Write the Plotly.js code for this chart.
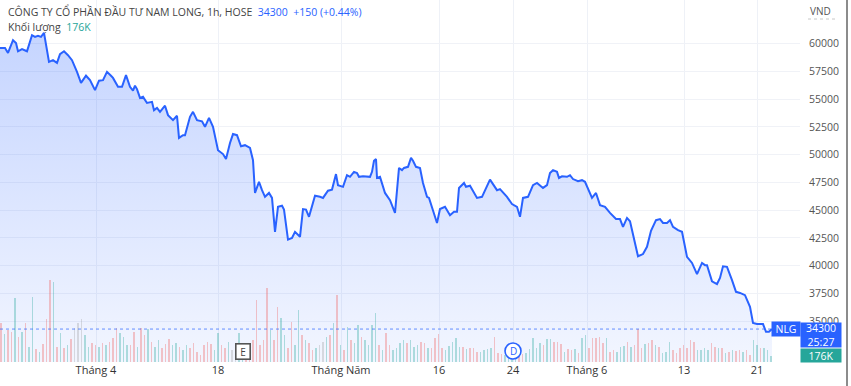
<!DOCTYPE html>
<html><head><meta charset="utf-8">
<script src="https://cdn.plot.ly/plotly-3.0.1.min.js"></script>
<style>html,body{margin:0;padding:0;background:#fff;overflow:hidden}#chart{width:851px;height:386px}</style>
</head><body><div id="chart"></div>
<script>
// ---- data (hourly index along the time axis) ----
const timeIndex = [0,5,8,13,16,18,22,27,32,35,38,41,44,47,49,53,57,60,64,68,72,77,81,86,90,95,99,103,107,111,113,118,122,126,130,133,135,137,140,143,147,152,154,157,160,165,168,173,177,179,183,185,190,193,197,202,205,209,213,218,223,226,230,233,237,241,245,250,253,255,259,262,265,269,272,275,278,282,284,288,292,295,300,303,306,309,315,320,323,328,332,336,338,343,347,350,354,357,359,363,370,372,374,376,377,380,385,390,395,399,402,404,408,411,413,416,420,423,427,429,433,437,440,445,450,454,457,459,464,466,470,477,482,490,497,500,507,512,517,520,523,528,533,537,543,547,550,553,557,559,562,567,570,573,578,582,585,592,596,600,605,610,616,620,623,627,630,635,638,643,647,651,656,660,663,667,670,673,678,682,687,692,697,702,705,707,712,717,720,723,727,732,736,740,745,750,753,757,763,766,769,772];
const closePrice = [59600,59600,59150,60300,60050,59300,59500,59300,60750,60600,60700,60600,60950,59400,58350,58500,58250,59050,59300,58950,58500,57450,56450,57100,56700,55800,56650,56700,57450,57100,56900,56100,56100,57150,56100,55750,56200,55900,55100,55200,54650,54750,54000,54200,53850,54400,53550,53100,53500,51500,51750,51750,53400,53850,53100,53000,52500,53300,52500,50400,50050,49600,51050,51850,51750,50750,50850,50600,49500,46550,47550,46800,46200,46550,46100,43050,45300,45400,45050,42350,42500,43050,42600,45100,45050,44400,46300,46200,46100,46750,46850,48250,47250,47100,48150,48000,48450,48350,48000,48050,48000,48450,49450,49600,47900,48000,46550,45900,44750,48800,48600,48800,48900,49700,49450,48900,48800,47450,46200,46100,45050,43850,45100,45300,44550,44850,44850,47000,47450,47100,47200,46100,46200,47750,46800,46900,46200,45550,45300,44400,46100,46200,47250,47450,47000,47250,48350,48600,48450,47900,48050,48000,48150,47800,47600,47700,47550,46100,46550,45450,45300,44750,44200,44200,43500,44300,44000,42150,40850,41050,41700,43150,44100,44200,43850,43850,44100,43500,43200,43050,40800,40250,39250,40250,40050,40050,38600,38350,38900,39950,39900,38700,37650,37550,37350,36300,34850,34750,34750,34050,34050,34300];
// volume in thousands of shares, one bar per hour slot
const volumeK = [1170,840,960,900,1920,750,900,1170,450,1950,
390,300,540,1290,2460,2400,450,870,420,510,
690,1020,1170,1290,810,450,570,510,450,570,
510,600,720,1020,870,750,510,510,900,450,
1020,810,990,600,450,660,420,540,690,510,
570,450,360,510,420,570,300,210,510,600,
540,360,870,510,420,600,360,450,870,300,
360,510,660,1860,510,660,2220,960,660,1650,
1320,810,420,1200,510,1560,810,660,570,360,
420,510,600,750,810,1170,2010,510,360,1050,
660,570,1110,750,660,510,1110,1470,510,360,
870,510,360,420,570,660,570,660,450,510,
600,570,420,420,720,840,420,360,480,600,
720,450,450,390,420,420,300,300,360,390,
420,750,270,240,210,180,180,210,240,240,
270,390,720,420,570,510,690,690,600,600,
540,300,390,360,390,270,720,810,420,720,
720,750,570,720,300,360,300,450,480,600,
450,510,990,420,540,570,660,510,450,270,
300,600,360,270,420,510,420,660,600,360,
360,420,360,570,450,420,420,270,300,360,
330,360,300,360,210,660,510,420,420,360,176];
// u = up bar, d = down bar, n = unchanged
const volumeDir = ("duddududuu"+"dudddududu"+"dnnnuuddud"+"uddduuuddu"+"dduduudddu"+"uduudddddd"+"duuddunnuu"+"dddddddudd"+"uudduududd"+"unnudududu"+"duuduuuudu"+"dduuuuduuu"+"ddudddduuu"+"uududdduuu"+"uddduuuudd"+"uuuuuduudd"+"dudduduudd"+"dddudduuud"+"uddduddudu"+"uudddddddu"+"uuuddududu"+"ddudduuduuu").split("");
const tickPositions = [0, 96, 218, 341, 439, 513, 587, 684, 757];
const tickLabels = ["22", "Tháng 4", "18", "Tháng Năm", "16", "24", "Tháng 6", "13", "21"];
const priceTicks = [35000, 37500, 40000, 42500, 45000, 47500, 50000, 52500, 55000, 57500, 60000];
const symbolName = "CÔNG TY CỔ PHẦN ĐẦU TƯ NAM LONG, 1h, HOSE";
const ticker = "NLG";
const lastPrice = 34300;
const lastChange = "+150 (+0.44%)";
const lastVolume = "176K";
const countdown = "25:27";
const eventE = 243, eventD = 513;

// ---- chart ----
const FONT = "Open Sans, Noto Sans, sans-serif";
const BLUE = "#2962ff";
const TEAL = "#26a69a";
const yMin = 31335, yMax = 63915;
const barTime = volumeK.map((_, i) => 1 + 3.5 * i);
const barColor = volumeDir.map(d => d === "u" ? "rgba(38,166,154,0.34)" : d === "d" ? "rgba(239,83,80,0.32)" : "rgba(150,150,150,0.3)");

const priceTrace = {
  x: timeIndex, y: closePrice, type: "scatter", mode: "lines",
  line: {color: BLUE, width: 2, shape: "linear"},
  fill: "tozeroy",
  fillgradient: {type: "vertical", start: yMin, stop: 61000,
    colorscale: [[0, "rgba(41,98,255,0.06)"], [1, "rgba(41,98,255,0.27)"]]},
  hoverinfo: "skip", xaxis: "x", yaxis: "y"
};
const volTrace = {
  x: barTime, y: volumeK, type: "bar", width: 1.7,
  marker: {color: barColor, line: {width: 0}},
  hoverinfo: "skip", xaxis: "x", yaxis: "y2"
};

const plotH = 362;
const layout = {
  width: 851, height: 386,
  margin: {l: 0, r: 51, t: 0, b: 24, pad: 0},
  paper_bgcolor: "#ffffff", plot_bgcolor: "#ffffff",
  showlegend: false,
  font: {family: FONT, size: 11, color: "#333"},
  xaxis: {range: [0, 800], tickvals: tickPositions, ticktext: tickLabels,
    showgrid: true, gridcolor: "#eef1f7", gridwidth: 1, zeroline: false, showline: false,
    ticks: "", tickfont: {family: FONT, size: 11, color: "#333"}, fixedrange: true},
  yaxis: {range: [yMin, yMax], side: "right", tickvals: priceTicks, tickformat: "d",
    showgrid: true, gridcolor: "#f0f2f7", gridwidth: 1, zeroline: false, showline: false,
    ticks: "", ticklabelstandoff: 8, tickfont: {family: FONT, size: 10.5, color: "#555"}, fixedrange: true},
  yaxis2: {overlaying: "y", range: [0, plotH * 30], visible: false, fixedrange: true},
  bargap: 0,
  shapes: [
    {type: "line", xref: "x", yref: "y", x0: 0, x1: 800, y0: lastPrice, y1: lastPrice,
     line: {color: "rgba(41,98,255,0.7)", width: 1, dash: "dot"}, layer: "above"},
    {type: "circle", xref: "x", yref: "paper", xsizemode: "pixel", ysizemode: "pixel",
     xanchor: eventD, yanchor: 11 / plotH, x0: -8, x1: 8, y0: -8, y1: 8,
     line: {color: BLUE, width: 1.6}, fillcolor: "#ffffff"},
    {type: "line", xref: "paper", yref: "paper", x0: 808 / 800, x1: 836 / 800,
     y0: (plotH - 19) / plotH, y1: (plotH - 19) / plotH, line: {color: "#c8c8c8", width: 1, dash: "dot"}},
    {type: "line", xref: "paper", yref: "paper", x0: 847 / 800, x1: 847 / 800,
     y0: -24 / plotH, y1: 1, line: {color: "#666", width: 1.5}}
  ],
  annotations: [
    {xref: "paper", yref: "paper", x: 6 / 800, y: 1, xanchor: "left", yanchor: "top", yshift: -2,
     showarrow: false, align: "left",
     text: symbolName + "&nbsp;&nbsp;<span style='color:" + BLUE + "'>" + lastPrice + "&nbsp;&nbsp;" + lastChange + "</span>",
     font: {family: FONT, size: 10.5, color: "#444"}},
    {xref: "paper", yref: "paper", x: 6 / 800, y: 1, xanchor: "left", yanchor: "top", yshift: -18,
     showarrow: false, align: "left",
     text: "Khối lượng&nbsp;&nbsp;<span style='color:" + TEAL + "'>" + lastVolume + "</span>",
     font: {family: FONT, size: 10.5, color: "#444"}},
    {xref: "paper", yref: "paper", x: 808 / 800, y: (plotH - 11) / plotH, xanchor: "left", yanchor: "middle",
     showarrow: false, text: "VND", font: {family: FONT, size: 10, color: "#555"}},
    {xref: "x", yref: "y", x: 786, y: lastPrice, xanchor: "center", yanchor: "middle",
     showarrow: false, text: ticker, width: 28, height: 14, borderpad: 0, bgcolor: BLUE,
     font: {family: FONT, size: 10.5, color: "#fff"}},
    {xref: "paper", yref: "y", x: 1, y: lastPrice, xanchor: "left", yanchor: "top", yshift: 7,
     showarrow: false, text: lastPrice + "<br>" + countdown, width: 40, height: 24, borderpad: 0, bgcolor: BLUE,
     font: {family: FONT, size: 10.5, color: "#fff"}},
    {xref: "paper", yref: "paper", x: 1, y: 14 / plotH, xanchor: "left", yanchor: "top",
     showarrow: false, text: lastVolume, width: 40, height: 13, borderpad: 0, bgcolor: TEAL,
     font: {family: FONT, size: 10.5, color: "#fff"}},
    {xref: "x", yref: "paper", x: eventE, y: 11 / plotH, xanchor: "center", yanchor: "middle",
     showarrow: false, text: "E", width: 11, height: 12, borderpad: 1, bgcolor: "#fff",
     bordercolor: "#555", borderwidth: 1.6, font: {family: FONT, size: 10, color: "#444"}},
    {xref: "x", yref: "paper", x: eventD, y: 11 / plotH, xanchor: "center", yanchor: "middle",
     showarrow: false, text: "D", font: {family: FONT, size: 10, color: BLUE}}
  ]
};

Plotly.newPlot("chart", [priceTrace, volTrace], layout, {staticPlot: true, displayModeBar: false});
</script></body></html>
